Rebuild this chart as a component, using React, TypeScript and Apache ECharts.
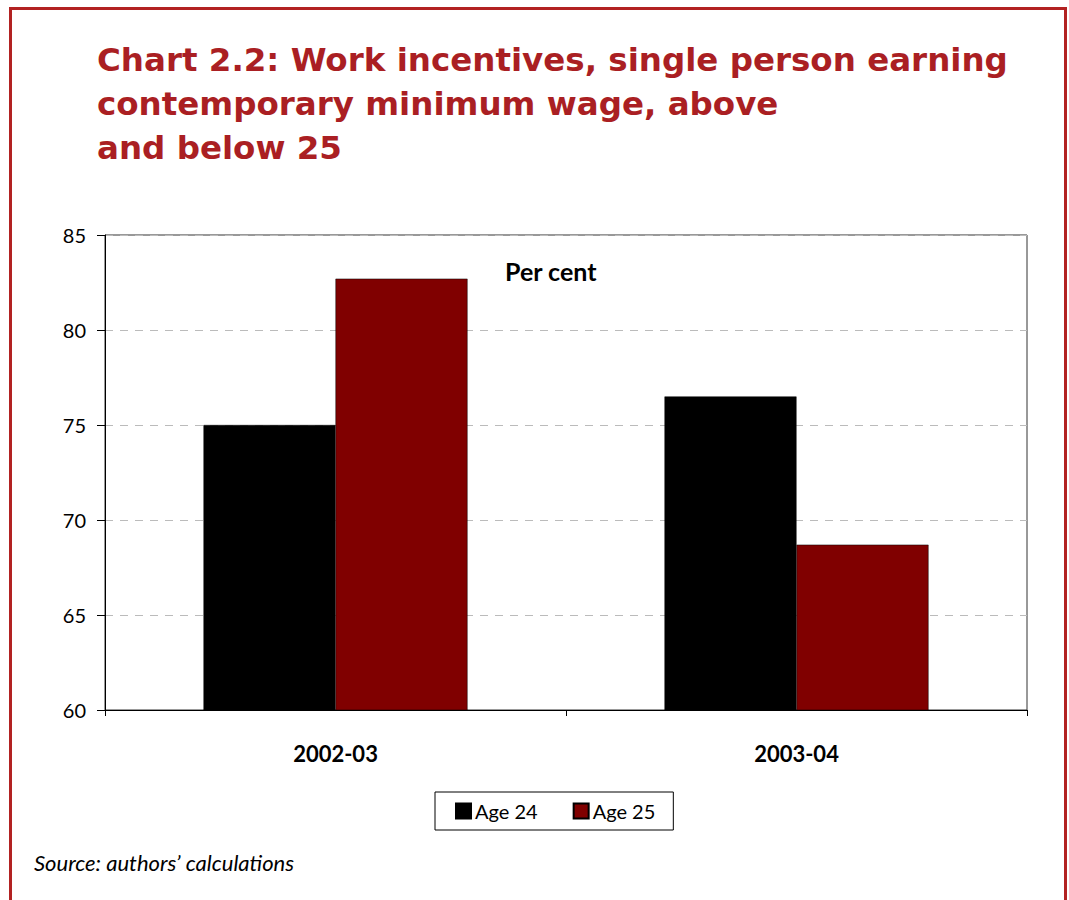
import React, { useEffect, useRef } from "react";
import * as echarts from "echarts";

const categories = ["2002-03", "2003-04"];
const age24 = [75, 76.5];
const age25 = [82.7, 68.7];
const seriesNames = ["Age 24", "Age 25"];
const yTicks = { min: 60, max: 85, interval: 5 };

const FONT = "Lato, 'Open Sans', sans-serif";

export default function App() {
  const ref = useRef<HTMLDivElement>(null);
  useEffect(() => {
    if (!ref.current) return;
    const chart = echarts.init(ref.current, null, { renderer: "svg" });
    chart.setOption({
      animation: false,
      backgroundColor: "#ffffff",
      title: {
        text: "Chart 2.2: Work incentives, single person earning\ncontemporary minimum wage, above\nand below 25",
        left: 97,
        top: 38,
        padding: 0,
        textStyle: {
          fontFamily: "'DejaVu Sans', sans-serif",
          fontWeight: "bold",
          fontSize: 32.5,
          lineHeight: 44,
          color: "#AA1F23",
        },
      },
      grid: {
        left: 105,
        right: 42,
        top: 235,
        bottom: 190,
        show: true,
        borderColor: "#333",
        borderWidth: 1,
        containLabel: false,
      },
      legend: {
        data: seriesNames,
        left: 435,
        top: 792,
        padding: [9, 18, 9, 20],
        itemGap: 35,
        itemWidth: 15,
        itemHeight: 15,
        icon: "rect",
        borderColor: "#000",
        borderWidth: 1,
        textStyle: { fontFamily: FONT, fontSize: 20, color: "#000", padding: [0, 0, 0, -1] },
      },
      xAxis: {
        type: "category",
        data: categories,
        axisLine: { lineStyle: { color: "#000", width: 1 } },
        axisTick: { show: true, length: 6, lineStyle: { color: "#000" } },
        axisLabel: { fontFamily: FONT, fontWeight: "bold", fontSize: 22, color: "#000", margin: 32 },
      },
      yAxis: {
        type: "value",
        min: yTicks.min,
        max: yTicks.max,
        interval: yTicks.interval,
        axisLine: { show: true, lineStyle: { color: "#000", width: 1 } },
        axisTick: { show: true, length: 8, lineStyle: { color: "#000" } },
        axisLabel: { fontFamily: FONT, fontSize: 20, color: "#000", margin: 19 },
        splitLine: { lineStyle: { color: "#bbb", type: [8, 7], width: 1 } },
      },
      series: [
        {
          name: seriesNames[0],
          type: "bar",
          data: age24,
          barWidth: 132,
          barGap: "0%",
          itemStyle: { color: "#000000", borderColor: "#000", borderWidth: 0.5 },
        },
        {
          name: seriesNames[1],
          type: "bar",
          data: age25,
          barWidth: 132,
          barGap: "0%",
          itemStyle: { color: "#800000", borderColor: "#000", borderWidth: 0.5 },
        },
      ],
      graphic: [
        {
          type: "rect",
          shape: { x: 10.5, y: 8.5, width: 1055, height: 920 },
          style: { fill: "none", stroke: "#B22222", lineWidth: 3 },
          silent: true,
        },
        {
          type: "text",
          left: 505,
          top: 258,
          style: { text: "Per cent", fontFamily: FONT, fontWeight: "bold", fontSize: 25, fill: "#000" },
        },
        {
          type: "text",
          left: 34,
          top: 851,
          style: { text: "Source: authors’ calculations", fontFamily: FONT, fontStyle: "italic", fontSize: 22, fill: "#000" },
        },
      ],
    });
    return () => chart.dispose();
  }, []);
  return (
    <div
      ref={ref}
      style={{ position: "absolute", left: 0, top: 0, width: 1069, height: 900 }}
    />
  );
}
